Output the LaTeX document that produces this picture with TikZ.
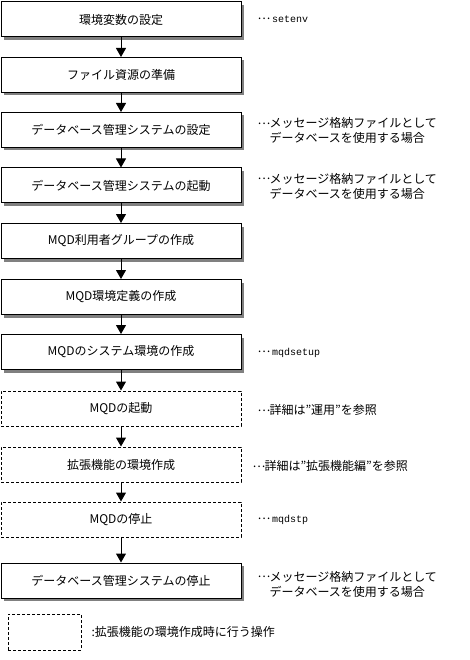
\documentclass[tikz,border=0pt]{standalone}
\usepackage{fontspec}
\setmainfont{Noto Sans CJK JP}
\setmonofont{Liberation Mono}
\usetikzlibrary{arrows.meta,shadows}

\newcommand{\noteDots}{\makebox[12pt][l]{\raisebox{3.5pt}{…}}}

\begin{document}
\begin{tikzpicture}[x=1pt,y=-1pt,line width=1pt,font=\fontsize{12}{15}\selectfont]
    \tikzstyle{stepbox}=[draw,fill=white,minimum width=240pt,minimum height=35pt,inner sep=0pt]
    \tikzstyle{main step}=[stepbox,drop shadow={shadow xshift=3pt,shadow yshift=-3pt,fill=black!50,opacity=1}]
    \tikzstyle{ext step}=[stepbox,dash pattern=on 3pt off 2pt]
    \tikzstyle{flow}=[-{Triangle[width=10pt,length=9pt]}]
    \tikzstyle{note}=[anchor=west,align=left,inner sep=0pt]

    \useasboundingbox (0,0) rectangle (469,660);

    % Draw the steps done every time
    \foreach \name / \y / \txt in {S1/19.5/環境変数の設定, S2/75/ファイル資源の準備,
        S3/130/データベース管理システムの設定, S4/185.5/データベース管理システムの起動,
        S5/241/MQD利用者グループの作成, S6/297/MQD環境定義の作成,
        S7/352/MQDのシステム環境の作成, S11/580.5/データベース管理システムの停止}
        \node[main step] (\name) at (121,\y) {\txt};

    % Draw the steps for the extension environment
    \foreach \name / \y / \txt in {S8/408.5/MQDの起動, S9/464.5/拡張機能の環境作成,
        S10/519.5/MQDの停止}
        \node[ext step] (\name) at (121,\y) {\txt};

    % Connect each step with the next one
    \foreach \source / \dest in {S1/S2,S2/S3,S3/S4,S4/S5,S5/S6,S6/S7,S7/S8,S8/S9,S9/S10,S10/S11}
        \draw[flow] (\source) -- (\dest);

    % Annotate the steps
    \node[note] (n1) at (257,19.5) {\noteDots\ \texttt{\fontsize{10}{12}\selectfont setenv}};
    \node[note] (n3) at (257,130.5) {\noteDots メッセージ格納ファイルとして\\\hspace*{1em}データベースを使用する場合};
    \node[note] (n4) at (257,186) {\noteDots メッセージ格納ファイルとして\\\hspace*{1em}データベースを使用する場合};
    \node[note] (n7) at (257,353) {\noteDots\ \texttt{\fontsize{10}{12}\selectfont mqdsetup}};
    \node[note] (n8) at (257,410) {\noteDots 詳細は”運用”を参照};
    \node[note] (n9) at (252,466) {\noteDots 詳細は”拡張機能編”を参照};
    \node[note] (n10) at (257,520) {\noteDots\ \texttt{\fontsize{10}{12}\selectfont mqdstp}};
    \node[note] (n11) at (257,584) {\noteDots メッセージ格納ファイルとして\\\hspace*{1em}データベースを使用する場合};

    % Legend
    \node[ext step,minimum width=73pt,minimum height=36pt] (key) at (44.5,632) {};
    \node[note] (keytext) at (91,632) {:拡張機能の環境作成時に行う操作};

\end{tikzpicture}
\end{document}
